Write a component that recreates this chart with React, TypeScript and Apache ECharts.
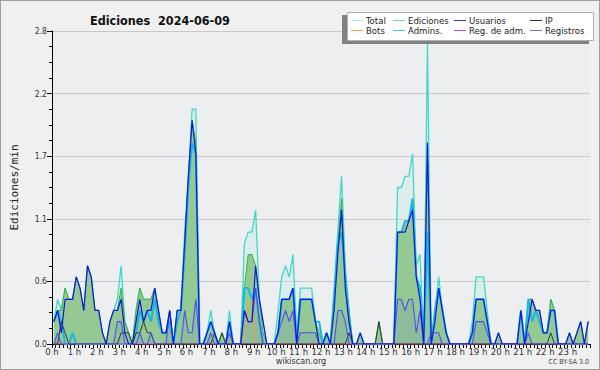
import React, { useEffect, useRef } from "react";
import * as echarts from "echarts";

// 10-minute bins, values in edits/min (144 bins over 24 h)
const total = [
  0.2,0.4,0.3,0.5,0.4,0.4, 0.6,0.5,0.3,0.7,0.6,0.3,
  0.3,0.1,0,0.2,0.3,0.4, 0.7,0.2,0.1,0,0.3,0.5,
  0.4,0.4,0.4,0.5,0.3,0.1, 0.1,0.3,0,0.3,0.3,1.0,
  1.5,2.1,2.1,0,0,0.1, 0.3,0.1,0,0.1,0,0.3,
  0,0,0,0.9,1.0,1.0, 1.2,0.4,0.2,0,0,0,
  0.3,0.6,0.7,0.6,0.8,0.1, 0.5,0.5,0.5,0.5,0.2,0.2,
  0,0.1,0,0.5,1.0,1.5, 0.7,0.3,0,0,0.1,0,
  0,0,0,0.2,0,0, 0,0,1.4,1.4,1.5,1.5,
  1.7,0.7,0.8,0,2.7,0, 0.3,0.6,0.3,0.1,0,0,
  0,0,0,0,0.2,0.6, 0.6,0.6,0.3,0,0,0.1,
  0,0,0,0,0,0.3, 0,0.4,0.4,0.3,0.3,0.1,
  0.1,0.4,0.3,0,0,0, 0.1,0,0.1,0.2,0,0.2,
];
const ediciones = [
  0.2,0.3,0.3,0.5,0.4,0.4, 0.6,0.5,0.3,0.7,0.6,0.3,
  0.3,0.1,0,0.2,0.3,0.3, 0.5,0.2,0.1,0,0.3,0.5,
  0.4,0.4,0.4,0.5,0.3,0.1, 0.1,0.3,0,0.3,0.3,0.9,
  1.5,2.0,1.8,0,0,0.1, 0.2,0.1,0,0.1,0,0.2,
  0,0,0,0.5,0.8,0.8, 0.7,0.4,0.1,0,0,0,
  0.1,0.4,0.4,0.4,0.5,0, 0.4,0.4,0.4,0.4,0.2,0.1,
  0,0.1,0,0.4,0.9,1.3, 0.6,0.3,0,0,0.1,0,
  0,0,0,0.2,0,0, 0,0,1.0,1.0,1.1,1.1,
  1.3,0.6,0.5,0,1.8,0, 0.3,0.5,0.3,0.1,0,0,
  0,0,0,0,0.1,0.4, 0.4,0.4,0.2,0,0,0.1,
  0,0,0,0,0,0.3, 0,0.4,0.4,0.3,0.3,0.1,
  0.1,0.4,0.3,0,0,0, 0.1,0,0.1,0.2,0,0.2,
];
const usuarios = [
  0.2,0.3,0.1,0.4,0.4,0.4, 0.6,0.5,0.3,0.7,0.6,0.3,
  0.3,0.1,0,0.2,0.3,0.3, 0.4,0.1,0,0,0.2,0.4,
  0.2,0.3,0.3,0.5,0.3,0.1, 0.1,0.3,0,0.3,0.3,0.9,
  1.5,2.0,1.7,0,0,0.1, 0.2,0.1,0,0,0,0.2,
  0,0,0,0.3,0.2,0.2, 0.7,0.4,0.2,0,0,0,
  0.1,0.4,0.4,0.4,0.5,0, 0.4,0.4,0.4,0.4,0.2,0,
  0,0.1,0,0.3,0.8,1.2, 0.5,0.2,0,0,0.1,0,
  0,0,0,0,0,0, 0,0,1.0,1.0,1.0,1.1,
  1.2,0.6,0.4,0,1.8,0, 0.2,0.5,0.3,0.1,0,0,
  0,0,0,0,0.1,0.4, 0.4,0.4,0.2,0,0,0.1,
  0,0,0,0,0,0.3, 0,0.2,0.4,0.3,0.3,0.1,
  0.1,0.3,0.3,0,0,0, 0.1,0,0.1,0.2,0,0.2,
];
const ip = [
  0,0,0.2,0.1,0,0, 0,0,0,0,0,0,
  0,0,0,0,0,0, 0.1,0.1,0.1,0,0.1,0.1,
  0.2,0.1,0.1,0,0,0, 0,0,0,0,0,0,
  0,0,0,0,0,0, 0,0.1,0,0.1,0,0,
  0,0,0,0,0,0, 0,0,0,0,0,0,
  0,0,0,0,0,0, 0,0,0,0,0,0,
  0,0,0,0,0,0, 0,0.1,0,0,0,0,
  0,0,0,0.2,0,0, 0,0,0,0,0,0,
  0,0,0,0,0,0, 0,0,0,0,0,0,
  0,0,0,0,0,0, 0,0,0,0,0,0,
  0,0,0,0,0,0, 0,0,0,0,0,0,
  0,0.1,0,0,0,0, 0,0,0,0,0,0,
];
const bots = [
  0,0,0,0,0,0, 0,0,0,0,0,0,
  0,0,0,0,0,0, 0,0,0,0,0,0,
  0,0,0,0,0,0, 0,0,0,0,0,0,
  0,0,0,0,0,0, 0,0,0,0,0,0,
  0,0,0,0.1,0.3,0.4, 0,0,0,0,0,0,
  0,0,0,0,0,0, 0,0,0,0,0,0,
  0,0,0,0,0,0, 0,0,0,0,0,0,
  0,0,0,0,0,0, 0,0,0,0,0,0,
  0,0,0,0,0,0, 0,0,0,0,0,0,
  0,0,0,0,0,0, 0,0,0,0,0,0,
  0,0,0,0,0,0, 0,0,0,0,0,0,
  0,0,0,0,0,0, 0,0,0,0,0,0,
];
const admins = [
  0.2,0.3,0.2,0,0,0.1, 0,0,0,0,0,0,
  0,0,0,0,0,0, 0,0,0,0,0.1,0.3,
  0.2,0.3,0.2,0.4,0.2,0.1, 0.1,0.2,0,0.2,0.3,0.8,
  1.4,1.8,1.7,0,0,0.1, 0.2,0.1,0,0,0,0.2,
  0,0,0,0.5,0.5,0.4, 0.5,0.2,0,0,0,0,
  0.1,0.4,0.4,0.4,0.5,0, 0.4,0.4,0.4,0.4,0.2,0.2,
  0,0.1,0,0.4,0.9,1.0, 0.6,0.2,0,0,0,0,
  0,0,0,0,0,0, 0,0,1.0,1.0,1.1,1.1,
  1.3,0.6,0.5,0,1.0,0, 0.3,0.5,0.3,0.1,0,0,
  0,0,0,0,0.1,0.4, 0.4,0.4,0.2,0,0,0,
  0,0,0,0,0,0.3, 0,0.4,0.2,0.3,0.2,0.1,
  0.1,0.3,0.3,0,0,0, 0,0,0,0,0,0,
];
const regAdm = new Array(144).fill(0);
const registros = [
  0,0.1,0,0,0,0, 0,0,0,0,0,0,
  0,0,0,0,0,0.2, 0.2,0,0,0,0,0.1,
  0,0,0.1,0,0,0, 0,0.3,0,0,0,0.3,
  0.1,0.1,0.4,0,0,0, 0.1,0,0,0,0,0.1,
  0,0,0,0.3,0.2,0.2, 0.5,0.2,0,0,0,0,
  0.1,0.2,0.3,0.2,0.3,0, 0.1,0.1,0.1,0.1,0.1,0,
  0,0,0,0,0.3,0.3, 0.2,0,0,0,0,0,
  0,0,0,0,0,0, 0,0,0.4,0.4,0.3,0.4,
  0.4,0.1,0.3,0,0,0.1, 0.1,0.1,0,0,0,0,
  0,0,0,0,0,0.2, 0.2,0.2,0.1,0,0,0,
  0,0,0,0,0,0, 0,0.1,0,0,0,0,
  0,0,0,0,0,0, 0,0,0,0,0,0,
];

const hourTicks = [0,1,2,3,4,5,6,7,8,9,10,11,12,13,14,15,16,17,18,19,20,21,22,23];
const yTickLabels = ["0.0","0.6","1.1","1.7","2.2","2.8"];

const legendItems = [
  { name: "Total", color: "#a8e8de" },
  { name: "Ediciones", color: "#88d088" },
  { name: "Usuarios", color: "#3a3ae0" },
  { name: "IP", color: "#303030" },
  { name: "Bots", color: "#f4a040" },
  { name: "Admins.", color: "#40d0e0" },
  { name: "Reg. de adm.", color: "#d040e8" },
  { name: "Registros", color: "#7070f0" },
];

const COND = "'DejaVu Sans Condensed', 'DejaVu Sans'";
const pts = (arr: number[]) => arr.map((v, i) => [(i + 0.5) / 6, v]);

export default function App() {
  const ref = useRef<HTMLDivElement>(null);
  useEffect(() => {
    const chart = echarts.init(ref.current!, null, { renderer: "svg" });
    const colX = [350, 392, 453, 529];
    const rowY = [19.5, 29.5];
    const legendGraphics: any[] = [
      { type: "rect", shape: { x: 341, y: 14, width: 247, height: 29 }, style: { fill: "#808080" }, z: 100 },
      { type: "rect", shape: { x: 346.5, y: 11.5, width: 246, height: 28 }, style: { fill: "#ffffff", stroke: "#b0b0b0", lineWidth: 1 }, z: 101 },
    ];
    legendItems.forEach((it, k) => {
      const c = k % 4, r = Math.floor(k / 4);
      const x = colX[c], y = rowY[r];
      legendGraphics.push({ type: "line", shape: { x1: x, y1: y, x2: x + 12, y2: y }, style: { stroke: it.color, lineWidth: 1 }, z: 102 });
      legendGraphics.push({ type: "text", x: x + 15, y: y, style: { text: it.name, fill: "#222", font: `9.5px ${COND}`, textVerticalAlign: "middle" }, z: 102 });
    });
    const common = { type: "line", symbol: "none", silent: true };
    chart.setOption({
      animation: false,
      backgroundColor: "#f0f0f0",
      grid: { left: 44, right: 9, top: 30, bottom: 25, show: true, backgroundColor: "#edeef0", borderWidth: 0 },
      xAxis: {
        type: "value", min: 0, max: 24, interval: 1,
        axisLine: { lineStyle: { color: "#000", width: 1 } },
        axisTick: { length: 4, lineStyle: { color: "#000" } },
        minorTick: { show: true, splitNumber: 6, length: 4, lineStyle: { color: "#000" } },
        splitLine: { show: false },
        axisLabel: {
          margin: 2, fontSize: 9.5, color: "#333", fontFamily: COND,
          formatter: (v: number) => (hourTicks.includes(v) ? `${v} h` : ""),
        },
      },
      yAxis: {
        type: "value", min: 0, max: 2.8, interval: 0.56,
        name: "Ediciones/min", nameLocation: "middle", nameGap: 32, nameRotate: 90,
        nameTextStyle: { fontSize: 11, color: "#222", fontFamily: "DejaVu Sans Mono" },
        axisLine: { show: true, lineStyle: { color: "#000", width: 1 } },
        axisTick: { show: true, length: 5, lineStyle: { color: "#000" } },
        minorTick: { show: true, splitNumber: 4, length: 3, lineStyle: { color: "#000" } },
        splitLine: { show: true, lineStyle: { color: "#c8c8c8", width: 1 } },
        axisLabel: {
          margin: 5, fontSize: 8.5, color: "#333", fontFamily: COND,
          formatter: (v: number) => yTickLabels[Math.round(v / 0.56)] ?? "",
        },
      },
      title: {
        text: "Ediciones  2024-06-09", left: 84, top: 8,
        textStyle: { fontSize: 12.5, fontWeight: "bold", color: "#111", fontFamily: COND },
      },
      graphic: [
        { type: "text", x: 300, y: 360, style: { text: "wikiscan.org", fill: "#333", font: `9px ${COND}`, textAlign: "center", textVerticalAlign: "middle" } },
        { type: "text", x: 588, y: 361, style: { text: "CC BY-SA 3.0", fill: "#444", font: `7px ${COND}`, textAlign: "right", textVerticalAlign: "middle" } },
        ...legendGraphics,
      ],
      series: [
        { ...common, name: "Total", data: pts(total), lineStyle: { color: "#40d8c8", width: 1.3 }, areaStyle: { color: "rgba(190,236,226,0.5)" }, z: 1 },
        { ...common, name: "Ediciones", data: pts(ediciones), lineStyle: { color: "#3cb03c", width: 1 }, areaStyle: { color: "#94c994", opacity: 1 }, z: 2 },
        { ...common, name: "Registros fill", data: pts(registros), lineStyle: { width: 0 }, areaStyle: { color: "rgba(90,100,200,0.18)" }, z: 3 },
        { ...common, name: "Admins.", data: pts(admins), lineStyle: { color: "#18b8e0", width: 2 }, z: 4 },
        { ...common, name: "Bots", data: pts(bots), lineStyle: { color: "#f0a030", width: 1 }, z: 5 },
        { ...common, name: "Reg. de adm.", data: pts(regAdm), lineStyle: { color: "#d040e8", width: 1 }, z: 5 },
        { ...common, name: "IP", data: pts(ip), lineStyle: { color: "#2f3f2f", width: 1 }, z: 6 },
        { ...common, name: "Registros", data: pts(registros), lineStyle: { color: "#4e4ef2", width: 1.1 }, z: 7 },
        { ...common, name: "Usuarios", data: pts(usuarios), lineStyle: { color: "#1515dd", width: 1.2 }, z: 8 },
      ],
    });
    return () => chart.dispose();
  }, []);
  return (
    <div style={{ position: "fixed", left: 0, top: 0, width: 600, height: 370, boxSizing: "border-box", border: "1px solid #a0a0a0", background: "#f0f0f0" }}>
      <div ref={ref} style={{ width: 598, height: 368 }} />
    </div>
  );
}
